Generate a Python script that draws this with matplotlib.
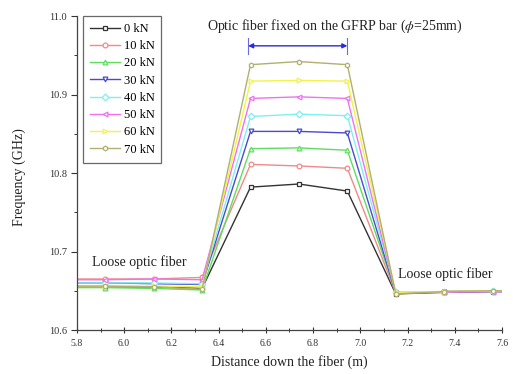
import matplotlib
matplotlib.use("Agg")
import matplotlib.pyplot as plt
from matplotlib.ticker import MultipleLocator

plt.rcParams['font.family'] = ['Liberation Serif', 'DejaVu Serif']
plt.rcParams['mathtext.fontset'] = 'stix'

# Measurement positions along the fiber (m); the outer points run past the axis limits
distance = [5.715, 5.92, 6.125, 6.33, 6.535, 6.74, 6.945, 7.15, 7.355, 7.56, 7.765]

loads = ["0 kN", "10 kN", "20 kN", "30 kN", "40 kN", "50 kN", "60 kN", "70 kN"]

# Brillouin frequency (GHz) for each load
freq_0kN  = [10.655, 10.655, 10.655, 10.653, 10.782, 10.786, 10.777, 10.646, 10.648, 10.649, 10.649]
freq_10kN = [10.665, 10.665, 10.665, 10.667, 10.811, 10.809, 10.806, 10.647, 10.649, 10.650, 10.650]
freq_20kN = [10.654, 10.654, 10.653, 10.651, 10.831, 10.832, 10.829, 10.648, 10.648, 10.650, 10.650]
freq_30kN = [10.660, 10.660, 10.659, 10.658, 10.853, 10.853, 10.851, 10.647, 10.649, 10.649, 10.649]
freq_40kN = [10.660, 10.660, 10.660, 10.659, 10.872, 10.875, 10.873, 10.648, 10.649, 10.650, 10.650]
freq_50kN = [10.664, 10.664, 10.665, 10.664, 10.895, 10.897, 10.895, 10.647, 10.648, 10.649, 10.649]
freq_60kN = [10.656, 10.656, 10.656, 10.655, 10.917, 10.918, 10.917, 10.648, 10.649, 10.650, 10.650]
freq_70kN = [10.656, 10.656, 10.655, 10.652, 10.938, 10.942, 10.938, 10.646, 10.649, 10.650, 10.650]

series = [freq_0kN, freq_10kN, freq_20kN, freq_30kN,
          freq_40kN, freq_50kN, freq_60kN, freq_70kN]
colors = ['#333333', '#f08a8a', '#5ede5e', '#4a4ad0',
          '#7ef0f0', '#f070f0', '#f2f24a', '#b0b070']
markers = ['s', 'o', '^', 'v', 'D', '<', '>', 'h']

fig = plt.figure(figsize=(5.13, 3.74), dpi=100)
ax = fig.add_axes([0.150, 0.1176, 0.8286, 0.8396])

for lab, y, c, m in zip(loads, series, colors, markers):
    ax.plot(distance, y, color=c, lw=1.0, marker=m, ms=3.4,
            mfc='white', mec=c, mew=0.9, label=lab)

ax.set_xlim(5.8, 7.6)
ax.set_ylim(10.6, 11.0)
ax.xaxis.set_major_locator(MultipleLocator(0.2))
ax.xaxis.set_minor_locator(MultipleLocator(0.1))
ax.yaxis.set_major_locator(MultipleLocator(0.1))
ax.yaxis.set_minor_locator(MultipleLocator(0.05))
ax.xaxis.set_major_formatter(plt.FuncFormatter(lambda v, p: f"{v:.1f}"))
ax.yaxis.set_major_formatter(plt.FuncFormatter(lambda v, p: f"{v:.1f}"))

ax.tick_params(axis='x', which='major', direction='inout', length=5, width=0.8,
               labelsize=7, colors='#333333', pad=4)
ax.tick_params(axis='x', which='minor', direction='inout', length=3, width=0.7, colors='#333333')
ax.tick_params(axis='y', which='major', direction='out', length=4, width=0.8,
               labelsize=7.5, colors='#333333', pad=3)
ax.tick_params(axis='y', which='minor', direction='out', length=2, width=0.7, colors='#333333')

for s in ['top', 'right']:
    ax.spines[s].set_visible(False)
for s in ['left', 'bottom']:
    ax.spines[s].set_color('#444444')
    ax.spines[s].set_linewidth(0.9)

ax.set_xlabel("Distance down the fiber (m)", fontsize=10, color='#222222')
ax.xaxis.set_label_coords(0.5, -0.102)
ax.xaxis.label.set_va('center')
ax.set_ylabel("Frequency (GHz)", fontsize=10, color='#222222')
ax.yaxis.set_label_coords(-0.135, 0.487)
ax.yaxis.label.set_va('center')

# Bonded section marker
ax.text(6.89, 10.987, r"Optic fiber fixed on the GFRP bar ($\phi$=25mm)",
        fontsize=10, ha='center', va='center', color='#222222')
ax.annotate("", xy=(6.525, 10.962), xytext=(6.945, 10.962),
            arrowprops=dict(arrowstyle='<|-|>', color='#2a2ad8', lw=1.0,
                            mutation_scale=7, shrinkA=0, shrinkB=0))
ax.plot([6.525, 6.525], [10.952, 10.972], color='#6a6ae0', lw=0.8)
ax.plot([6.945, 6.945], [10.952, 10.972], color='#6a6ae0', lw=0.8)

ax.text(5.862, 10.686, "Loose optic fiber", fontsize=10, color='#222222', va='center')
ax.text(7.16, 10.671, "Loose optic fiber", fontsize=10, color='#222222', va='center')

leg = ax.legend(loc='upper left', bbox_to_anchor=(0.014, 1.0), fontsize=9,
                frameon=True, fancybox=False, handlelength=2.4,
                handletextpad=0.3, labelspacing=0.42, borderpad=0.55,
                borderaxespad=0.0)
leg.get_frame().set_edgecolor('#444444')
leg.get_frame().set_linewidth(0.9)

fig.savefig("out.png", dpi=100)
